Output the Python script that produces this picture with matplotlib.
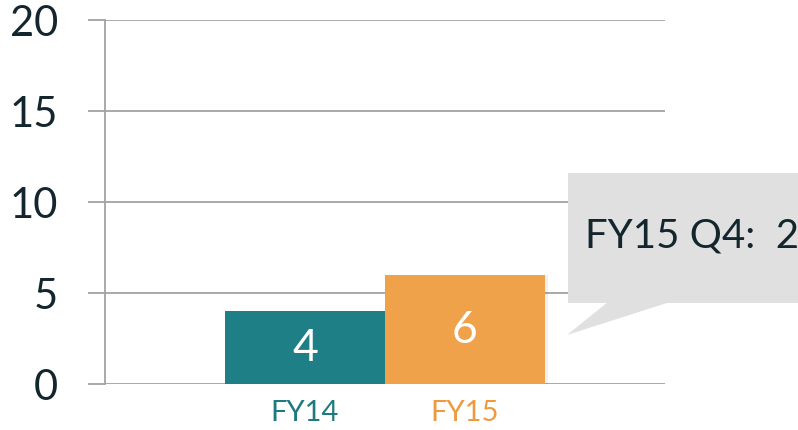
import numpy as np
import matplotlib.pyplot as plt
from matplotlib.patches import Polygon, Rectangle

categories = ['FY14', 'FY15']
values = [4, 6]
bar_colors = ['#1f7f86', '#f0a24a']
label_colors = ['#1f7a80', '#f09a40']
yticks = [0, 5, 10, 15, 20]
tooltip_text = 'FY15 Q4:  2'

plt.rcParams['font.family'] = ['Lato', 'DejaVu Sans']

W, H = 798, 431
fig = plt.figure(figsize=(W / 100, H / 100), dpi=100)
ax = fig.add_axes([105 / W, 46 / H, 560 / W, 364 / H])

x = np.arange(len(categories))
# faint shadow to the right of each bar
for xi, v in zip(x, values):
    ax.bar(xi + 0.02, v, width=1.0, color='#000000', alpha=0.06, zorder=2)
bars = ax.bar(x, values, width=1.0, color=bar_colors, zorder=3)
for xi, v in zip(x, values):
    ax.text(xi, v / 2, str(v), ha='center', va='center', color='white',
            fontsize=32, zorder=4)

ax.set_xlim(-1.25, 2.25)
ax.set_ylim(0, 20)
ax.set_yticks(yticks)
ax.set_xticks(x)
ax.set_xticklabels(categories, fontsize=21)
for lbl, c in zip(ax.get_xticklabels(), label_colors):
    lbl.set_color(c)
ax.tick_params(axis='x', length=0, pad=11)
ax.tick_params(axis='y', length=12, width=1.3, color='#a3a3a3', pad=22,
               labelsize=30, labelcolor='#14262d')
ax.grid(axis='y', color='#a3a3a3', linewidth=1.3, zorder=1)
for s in ['top', 'right', 'bottom']:
    ax.spines[s].set_visible(False)
ax.spines['left'].set_color('#a3a3a3')
ax.spines['left'].set_linewidth(1.3)

# tooltip bubble (figure pixel coordinates, origin bottom-left)
def px(xp, yp):
    return (xp / W, 1 - yp / H)

box = Rectangle(px(568, 304), 240 / W, 130 / H, transform=fig.transFigure,
                facecolor='#e0e0e0', edgecolor='none', zorder=10)
tail = Polygon([px(608, 303), px(670, 303), px(567, 336)], closed=True,
               transform=fig.transFigure, facecolor='#e0e0e0',
               edgecolor='none', zorder=10)
fig.patches.extend([box, tail])
fig.text(585 / W, 1 - 236 / H, tooltip_text, ha='left', va='center',
         fontsize=29, color='#14262d', zorder=11)

fig.savefig('out.png', dpi=100, facecolor='white')
